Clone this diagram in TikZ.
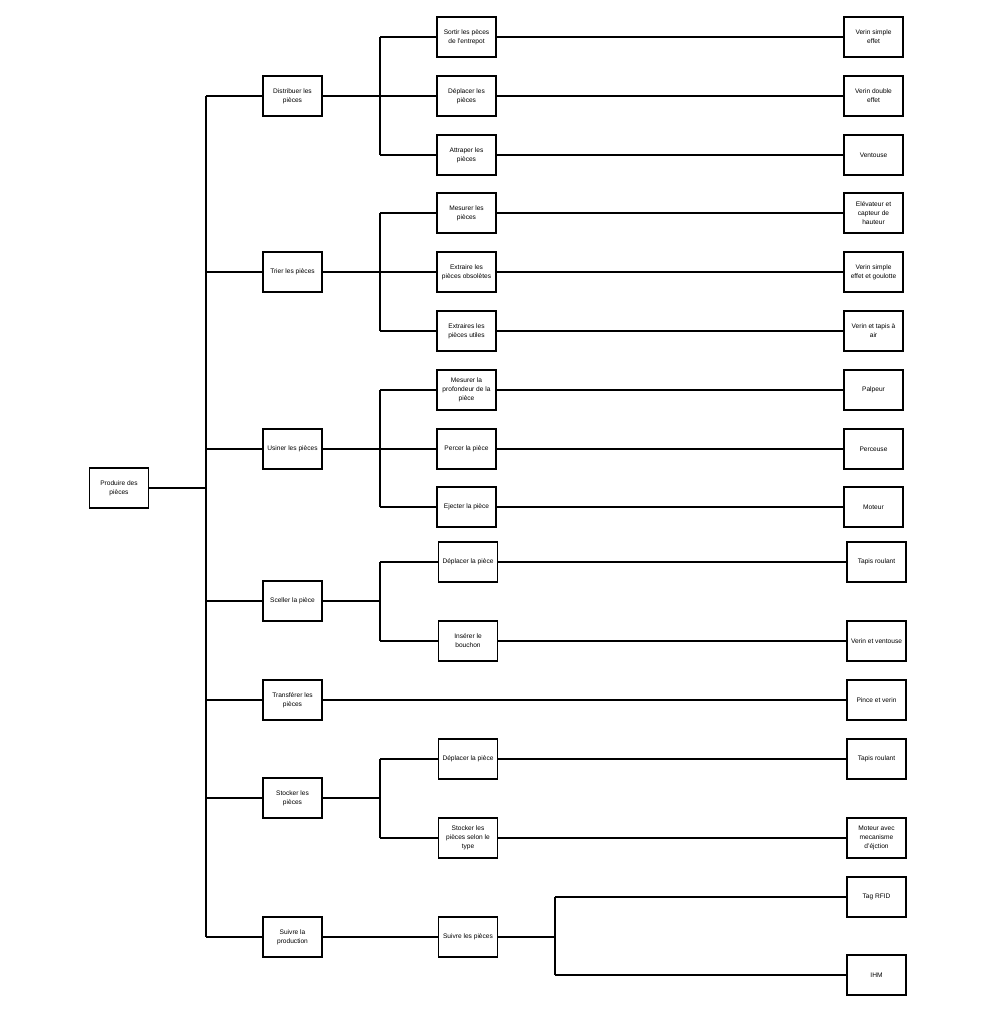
\documentclass[tikz,border=0pt]{standalone}
\usepackage{fontspec}
\setmainfont{Liberation Sans}
\begin{document}
\begin{tikzpicture}[x=1pt,y=-1pt,
  fbox/.style={draw, line width=1.1pt, minimum width=59pt, minimum height=40pt, inner sep=1pt, align=center, font=\fontsize{6.6}{9}\selectfont},
  wbox/.style={fbox, minimum width=60pt},
  link/.style={line width=1.2pt}]
\useasboundingbox (0,0) rectangle (996,1024);
% root
\node[fbox] (root) at (119,488) {Produire des\\pièces};
% level 1
\node[fbox] (d) at (292.5,96) {Distribuer les\\pièces};
\node[fbox] (t) at (292.5,272) {Trier les pièces};
\node[fbox] (u) at (292.5,449) {Usiner les pièces};
\node[fbox] (s) at (292.5,601) {Sceller la pièce};
\node[fbox] (tr) at (292.5,700) {Transférer les\\pièces};
\node[fbox] (st) at (292.5,798) {Stocker les\\pièces};
\node[fbox] (sv) at (292.5,937) {Suivre la\\production};
% level 2
\node[fbox] (d1) at (466.5,37) {Sortir les pèces\\de l'entrepot};
\node[fbox] (d2) at (466.5,96) {Déplacer les\\pièces};
\node[fbox] (d3) at (466.5,155) {Attraper les\\pièces};
\node[fbox] (t1) at (466.5,213) {Mesurer les\\pièces};
\node[fbox] (t2) at (466.5,272) {Extraire les\\pièces obsolètes};
\node[fbox] (t3) at (466.5,331) {Extraires les\\pièces utiles};
\node[fbox] (u1) at (466.5,390) {Mesurer la\\profondeur de la\\pièce};
\node[fbox] (u2) at (466.5,449) {Percer la pièce};
\node[fbox] (u3) at (466.5,507) {Ejecter la pièce};
\node[fbox] (s1) at (468,562) {Déplacer la pièce};
\node[fbox] (s2) at (468,641) {Insérer le\\bouchon};
\node[fbox] (st1) at (468,759) {Déplacer la pièce};
\node[fbox] (st2) at (468,838) {Stocker les\\pièces selon le\\type};
\node[fbox] (sv1) at (468,937) {Suivre les pièces};
% level 3
\node[fbox] (d1r) at (873.5,37) {Verin simple\\effet};
\node[fbox] (d2r) at (873.5,96) {Verin double\\effet};
\node[fbox] (d3r) at (873.5,155) {Ventouse};
\node[fbox] (t1r) at (873.5,213) {Elévateur et\\capteur de\\hauteur};
\node[fbox] (t2r) at (873.5,272) {Verin simple\\effet et goulotte};
\node[fbox] (t3r) at (873.5,331) {Verin et tapis à\\air};
\node[fbox] (u1r) at (873.5,390) {Palpeur};
\node[fbox] (u2r) at (873.5,449) {Perceuse};
\node[fbox] (u3r) at (873.5,507) {Moteur};
\node[fbox] (s1r) at (876.5,562) {Tapis roulant};
\node[fbox] (s2r) at (876.5,641) {Verin et ventouse};
\node[fbox] (trr) at (876.5,700) {Pince et verin};
\node[fbox] (st1r) at (876.5,759) {Tapis roulant};
\node[fbox] (st2r) at (876.5,838) {Moteur avec\\mecanisme\\d'éjction};
\node[fbox] (sv1r) at (876.5,897) {Tag RFID};
\node[fbox] (sv2r) at (876.5,975) {IHM};
% buses
\coordinate (bus0) at (206,0);
\coordinate (bus1) at (380,0);
\coordinate (bus2) at (555,0);
\draw[link] (root.east) -- (bus0 |- root.east);
\draw[link] (bus0 |- d.west) -- (bus0 |- sv.west);
\foreach \n in {d,t,u,s,tr,st,sv} \draw[link] (bus0 |- \n.west) -- (\n.west);
% distribuer
\draw[link] (d.east) -- (d2.west);
\draw[link] (bus1 |- d1.west) -- (bus1 |- d3.west);
\draw[link] (bus1 |- d1.west) -- (d1.west);
\draw[link] (bus1 |- d3.west) -- (d3.west);
% trier
\draw[link] (t.east) -- (t2.west);
\draw[link] (bus1 |- t1.west) -- (bus1 |- t3.west);
\draw[link] (bus1 |- t1.west) -- (t1.west);
\draw[link] (bus1 |- t3.west) -- (t3.west);
% usiner
\draw[link] (u.east) -- (u2.west);
\draw[link] (bus1 |- u1.west) -- (bus1 |- u3.west);
\draw[link] (bus1 |- u1.west) -- (u1.west);
\draw[link] (bus1 |- u3.west) -- (u3.west);
% sceller
\draw[link] (s.east) -- (bus1 |- s.east);
\draw[link] (bus1 |- s1.west) -- (bus1 |- s2.west);
\draw[link] (bus1 |- s1.west) -- (s1.west);
\draw[link] (bus1 |- s2.west) -- (s2.west);
% transferer
\draw[link] (tr.east) -- (trr.west);
% stocker
\draw[link] (st.east) -- (bus1 |- st.east);
\draw[link] (bus1 |- st1.west) -- (bus1 |- st2.west);
\draw[link] (bus1 |- st1.west) -- (st1.west);
\draw[link] (bus1 |- st2.west) -- (st2.west);
% suivre
\draw[link] (sv.east) -- (sv1.west);
\draw[link] (sv1.east) -- (bus2 |- sv1.east);
\draw[link] (bus2 |- sv1r.west) -- (bus2 |- sv2r.west);
\draw[link] (bus2 |- sv1r.west) -- (sv1r.west);
\draw[link] (bus2 |- sv2r.west) -- (sv2r.west);
% level 2 to level 3
\foreach \a/\b in {d1/d1r,d2/d2r,d3/d3r,t1/t1r,t2/t2r,t3/t3r,u1/u1r,u2/u2r,u3/u3r,s1/s1r,s2/s2r,st1/st1r,st2/st2r}
  \draw[link] (\a.east) -- (\b.west);
\end{tikzpicture}
\end{document}
